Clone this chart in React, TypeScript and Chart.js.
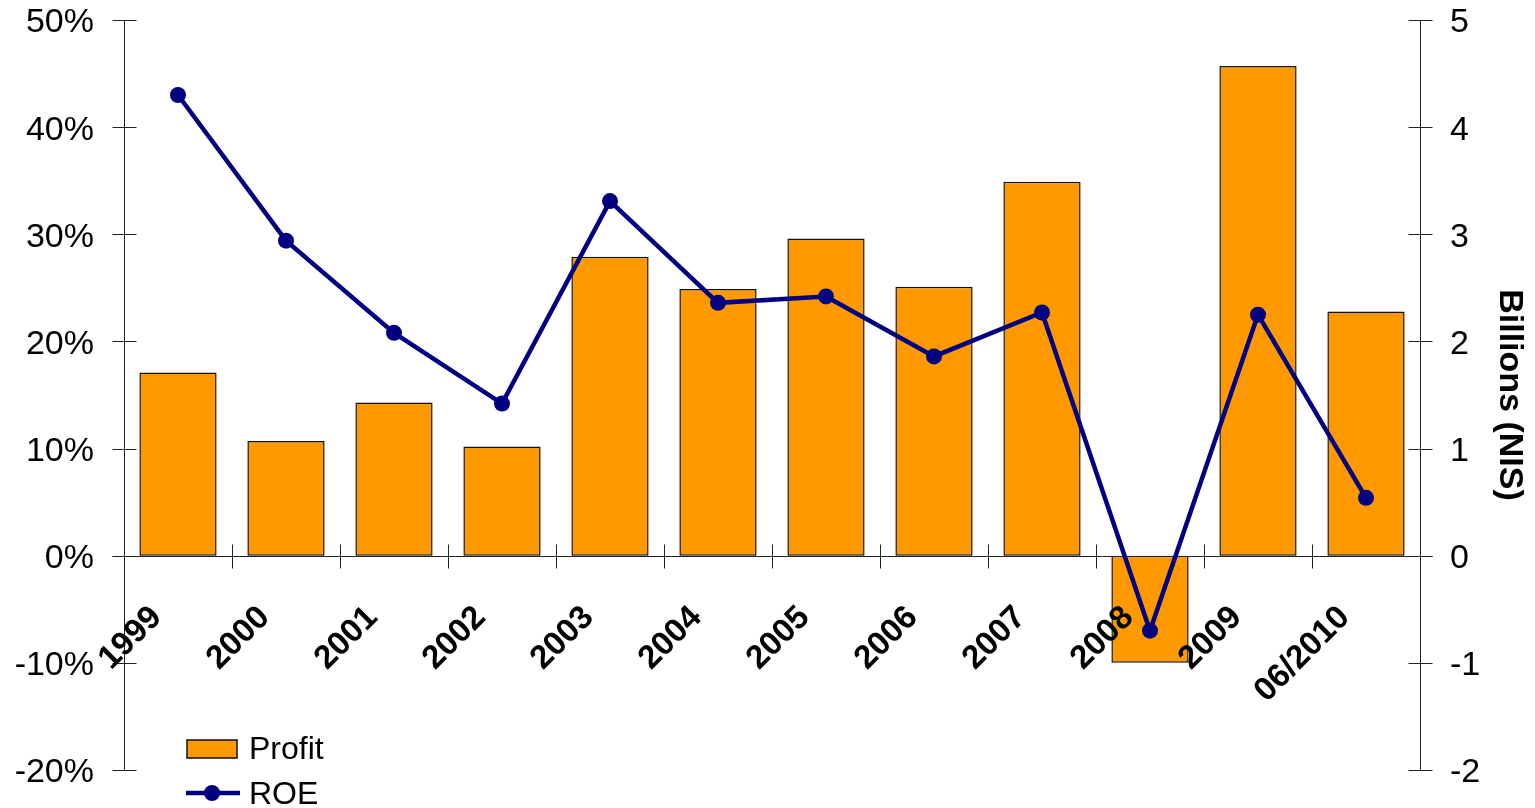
import React, { useEffect, useRef } from "react";
import { Chart, registerables } from "chart.js";

Chart.register(...registerables);

const categories = ["1999", "2000", "2001", "2002", "2003", "2004", "2005", "2006", "2007", "2008", "2009", "06/2010"];
const profitBillions = [1.71, 1.07, 1.43, 1.02, 2.79, 2.49, 2.96, 2.51, 3.49, -1.0, 4.57, 2.28];
const roePercent = [43.0, 29.4, 20.8, 14.2, 33.1, 23.6, 24.2, 18.6, 22.7, -7.0, 22.5, 5.4];
const leftTicks = [-20, -10, 0, 10, 20, 30, 40, 50];
const rightTicks = [-2, -1, 0, 1, 2, 3, 4, 5];

const FONT = "'Liberation Sans', Arial, Helvetica, sans-serif";
const BAR_COLOR = "#FF9900";
const LINE_COLOR = "#000080";

const axesPlugin = {
  id: "customAxes",
  afterDatasetDraw(chart: any, args: any) {
    if (args.meta.type !== "bar") return;
    const ctx = chart.ctx;
    const x = chart.scales.x;
    const yL = chart.scales.y;
    const yR = chart.scales.y1;
    const area = chart.chartArea;
    const y0 = yL.getPixelForValue(0);
    ctx.save();
    ctx.strokeStyle = "#222";
    ctx.lineWidth = 1;
    const L = Math.round(area.left) + 0.5;
    const R = Math.round(area.right) + 0.5;
    const Z = Math.round(y0) + 0.5;
    ctx.beginPath();
    ctx.moveTo(L, area.top);
    ctx.lineTo(L, area.bottom);
    ctx.moveTo(R, area.top);
    ctx.lineTo(R, area.bottom);
    ctx.moveTo(L - 12, Z);
    ctx.lineTo(R + 12, Z);
    leftTicks.forEach((v) => {
      const p = Math.round(yL.getPixelForValue(v)) + 0.5;
      ctx.moveTo(L - 12, p);
      ctx.lineTo(L + 12, p);
    });
    rightTicks.forEach((v) => {
      const p = Math.round(yR.getPixelForValue(v)) + 0.5;
      ctx.moveTo(R - 12, p);
      ctx.lineTo(R + 12, p);
    });
    for (let i = 1; i < categories.length; i++) {
      const px = Math.round((x.getPixelForValue(i - 1) + x.getPixelForValue(i)) / 2) + 0.5;
      ctx.moveTo(px, Z - 12);
      ctx.lineTo(px, Z + 12);
    }
    ctx.stroke();

    // y tick labels
    ctx.fillStyle = "#000";
    ctx.font = `34px ${FONT}`;
    ctx.textBaseline = "middle";
    ctx.textAlign = "right";
    leftTicks.forEach((v) => {
      ctx.fillText(`${v}%`, area.left - 30, yL.getPixelForValue(v) + 3);
    });
    ctx.textAlign = "left";
    rightTicks.forEach((v) => {
      ctx.fillText(`${v}`, area.right + 30, yR.getPixelForValue(v) + 3);
    });

    // x category labels
    ctx.font = `bold 33px ${FONT}`;
    ctx.textAlign = "right";
    ctx.textBaseline = "alphabetic";
    categories.forEach((c, i) => {
      const cx = x.getPixelForValue(i);
      ctx.save();
      ctx.translate(cx - 15, y0 + 63);
      ctx.rotate(-Math.PI / 4);
      ctx.fillText(c, 0, 0);
      ctx.restore();
    });
    ctx.restore();
  },
  afterDraw(chart: any) {
    const ctx = chart.ctx;
    ctx.save();
    // Profit
    ctx.fillStyle = BAR_COLOR;
    ctx.fillRect(187, 740, 50, 18);
    ctx.strokeStyle = "#111";
    ctx.lineWidth = 1.5;
    ctx.strokeRect(187, 740, 50, 18);
    // ROE
    ctx.strokeStyle = LINE_COLOR;
    ctx.lineWidth = 4.5;
    ctx.beginPath();
    ctx.moveTo(186, 793);
    ctx.lineTo(240, 793);
    ctx.stroke();
    ctx.fillStyle = LINE_COLOR;
    ctx.beginPath();
    ctx.arc(212, 793, 8, 0, Math.PI * 2);
    ctx.fill();
    ctx.fillStyle = "#000";
    ctx.font = `32px ${FONT}`;
    ctx.textAlign = "left";
    ctx.textBaseline = "middle";
    ctx.fillText("Profit", 249, 750);
    ctx.fillText("ROE", 249, 795);
    ctx.restore();
  },
};

export default function App() {
  const canvasRef = useRef<HTMLCanvasElement | null>(null);

  useEffect(() => {
    if (!canvasRef.current) return;
    const chart = new Chart(canvasRef.current, {
      type: "bar",
      data: {
        labels: categories,
        datasets: [
          {
            type: "line",
            label: "ROE",
            data: roePercent,
            yAxisID: "y",
            borderColor: LINE_COLOR,
            backgroundColor: LINE_COLOR,
            borderWidth: 4.5,
            pointRadius: 8,
            pointBackgroundColor: LINE_COLOR,
            pointBorderWidth: 0,
            tension: 0,
            order: 0,
          } as any,
          {
            type: "bar",
            label: "Profit",
            data: profitBillions,
            yAxisID: "y1",
            backgroundColor: BAR_COLOR,
            borderColor: "#111",
            borderWidth: 1.5,
            borderSkipped: false,
            barPercentage: 0.715,
            categoryPercentage: 1,
            order: 1,
          } as any,
        ],
      },
      options: {
        responsive: true,
        maintainAspectRatio: false,
        animation: false,
        layout: { padding: { top: 20, bottom: 38, left: 0, right: 0 } },
        plugins: { legend: { display: false }, tooltip: { enabled: false } },
        scales: {
          x: {
            display: false,
            offset: true,
          },
          y: {
            position: "left",
            min: -20,
            max: 50,
            grid: { display: false, drawTicks: false },
            border: { display: false },
            ticks: { display: false, stepSize: 10 },
            afterFit: (s: any) => {
              s.width = 124;
              s.paddingTop = 0;
              s.paddingBottom = 0;
            },
          },
          y1: {
            position: "right",
            min: -2,
            max: 5,
            grid: { display: false, drawTicks: false },
            border: { display: false },
            ticks: { display: false, stepSize: 1 },
            title: {
              display: true,
              text: "Billions (NIS)",
              color: "#000",
              font: { family: FONT, size: 34, weight: "bold", lineHeight: 1 },
              padding: { top: 9, bottom: 0 },
            },
            afterFit: (s: any) => {
              s.width = 115;
              s.paddingTop = 0;
              s.paddingBottom = 0;
            },
          },
        },
      } as any,
      plugins: [axesPlugin],
    });
    return () => chart.destroy();
  }, []);

  return (
    <div style={{ position: "fixed", left: 0, top: 0, width: 1535, height: 808, background: "#fff" }}>
      <canvas ref={canvasRef} />
    </div>
  );
}
